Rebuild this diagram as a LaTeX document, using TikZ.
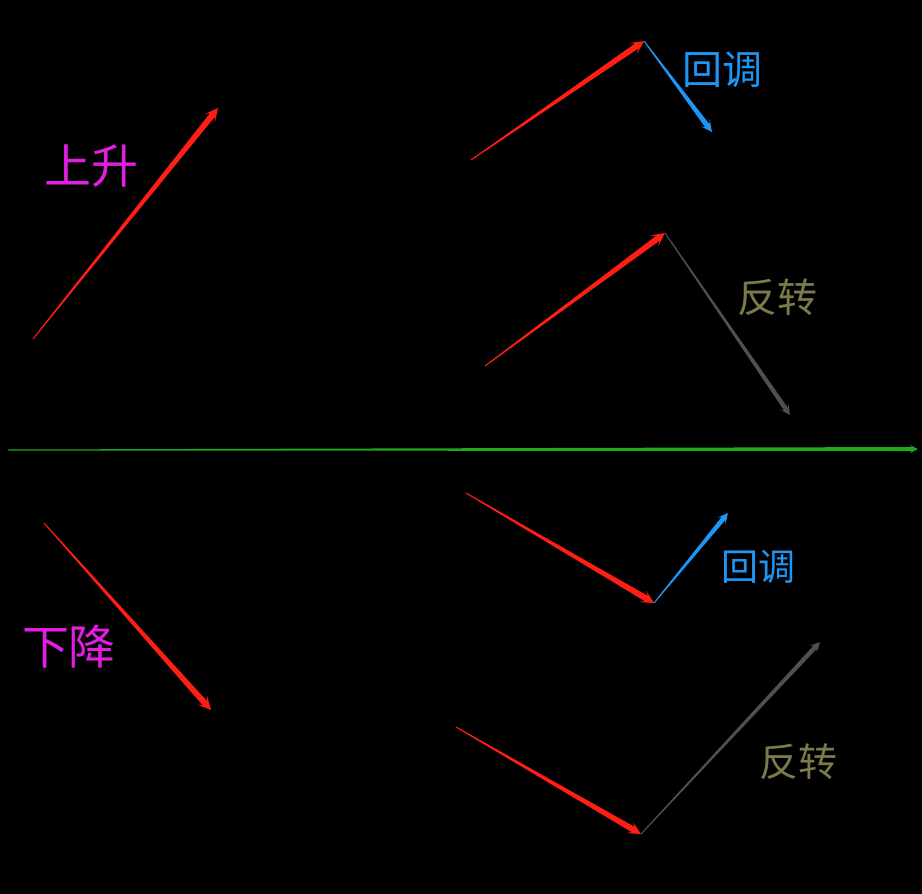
\documentclass[tikz,border=0pt]{standalone}
\usepackage{fontspec}
\newfontfamily\cjk{Noto Sans CJK SC}
\usetikzlibrary{calc,positioning}
\definecolor{trendred}{HTML}{FF1E14}
\definecolor{pullblue}{HTML}{1E96F5}
\definecolor{turngray}{HTML}{505050}
\definecolor{turnolive}{HTML}{7C7A4A}
\definecolor{trendpink}{HTML}{E21EE2}
\definecolor{axisgreen}{HTML}{1EA81E}
%% tapered arrow: colour, start, end, half width at the head
\newcommand{\tarrow}[4]{%
  \coordinate (ta) at ($(#3)!{3*#4}!(#2)$);
  \coordinate (tb) at ($(#3)!{4.4*#4}!(#2)$);
  \fill[#1] ($(#2)!0.5pt!90:(#3)$) -- ($(ta)!#4!90:(#3)$) -- ($(tb)!{2.2*#4}!90:(#3)$)
    -- (#3) -- ($(tb)!{2.2*#4}!-90:(#3)$) -- ($(ta)!#4!-90:(#3)$) -- ($(#2)!0.5pt!-90:(#3)$) -- cycle;
}
\begin{document}
\begin{tikzpicture}[x=1pt,y=-1pt,
  trendlabel/.style={font=\cjk\fontsize{47}{47}\selectfont, text=trendpink, inner sep=0pt},
  pulllabel/.style={font=\cjk\fontsize{40}{40}\selectfont, text=pullblue, inner sep=0pt},
  turnlabel/.style={font=\cjk\fontsize{40}{40}\selectfont, text=turnolive, inner sep=0pt}]
  \fill[black] (0,0) rectangle (922,894);
  \useasboundingbox (0,0) rectangle (922,894);
  %% points of the moves
  \coordinate (up-s) at (33,339);   \coordinate (up-e) at (218,108);
  \coordinate (pa-s) at (471,160);  \coordinate (pa-e) at (644,41);   \coordinate (pa-r) at (712,132);
  \coordinate (ra-s) at (485,366);  \coordinate (ra-e) at (665,233);  \coordinate (ra-r) at (790,415);
  \coordinate (ax-s) at (8,450);    \coordinate (ax-e) at (918,449);
  \coordinate (dn-s) at (44,523);   \coordinate (dn-e) at (211,710);
  \coordinate (pb-s) at (466,493);  \coordinate (pb-e) at (654,603);  \coordinate (pb-r) at (728,513);
  \coordinate (rb-s) at (456,727);  \coordinate (rb-e) at (641,834);  \coordinate (rb-r) at (820,642);
  %% the axis
  \tarrow{axisgreen}{ax-s}{ax-e}{2pt}
  %% rising
  \tarrow{trendred}{up-s}{up-e}{3pt}
  \tarrow{trendred}{pa-s}{pa-e}{3pt}
  \tarrow{pullblue}{pa-e}{pa-r}{2.6pt}
  \tarrow{trendred}{ra-s}{ra-e}{3pt}
  \tarrow{turngray}{ra-e}{ra-r}{2.3pt}
  %% falling
  \tarrow{trendred}{dn-s}{dn-e}{3pt}
  \tarrow{trendred}{pb-s}{pb-e}{3pt}
  \tarrow{pullblue}{pb-e}{pb-r}{2.4pt}
  \tarrow{trendred}{rb-s}{rb-e}{3pt}
  \tarrow{turngray}{rb-e}{rb-r}{2.3pt}
  %% labels
  \node[trendlabel] (up-l) at (92,166) {上升};
  \node[trendlabel] (dn-l) at (69,647) {下降};
  \node[pulllabel] (pa-l) at (722,70) {回调};
  \node[pulllabel, font=\cjk\fontsize{37}{37}\selectfont] (pb-l) at (758,567) {回调};
  \node[turnlabel] (ra-l) at (777,297) {反转};
  \node[turnlabel, font=\cjk\fontsize{39}{39}\selectfont] (rb-l) at (798,762) {反转};
\end{tikzpicture}
\end{document}
